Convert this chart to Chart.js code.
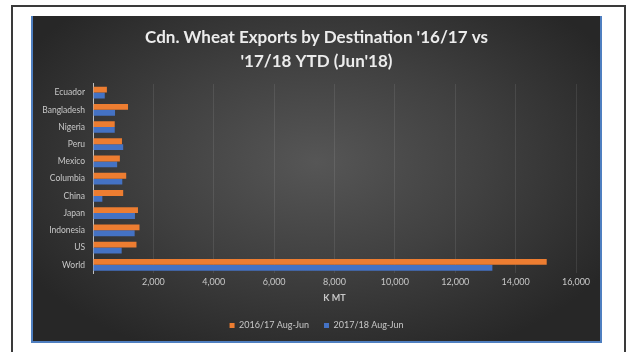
<!DOCTYPE html>
<html>
<head>
<meta charset="utf-8">
<script src="https://cdn.jsdelivr.net/npm/chart.js@4"></script>
<style>
  html, body { margin: 0; padding: 0; background: #fff; width: 628px; height: 352px; overflow: hidden; }
  #frame {
    position: absolute; left: 11px; top: 5px; width: 615px; height: 360px;
    border: 2px solid #3a3a3a; box-sizing: border-box;
  }
  #panel {
    position: absolute; left: 31px; top: 16px; width: 571px; height: 327px;
    box-sizing: border-box;
    border-left: 2px solid #4f7fc0; border-right: 2px solid #4f7fc0; border-bottom: 2px solid #4f7fc0;
    background: radial-gradient(ellipse 60% 65% at 50% 45%, #565656 0%, #404040 50%, #272727 100%);
  }
  #wrap { position: absolute; left: 33px; top: 16px; width: 567px; height: 325px; }
</style>
</head>
<body>
<div id="frame"></div>
<div id="panel"></div>
<div id="wrap"><canvas id="chart"></canvas></div>
<script>
const categories = ['Ecuador', 'Bangladesh', 'Nigeria', 'Peru', 'Mexico', 'Columbia', 'China', 'Japan', 'Indonesia', 'US', 'World'];
const exports1617 = [460, 1160, 720, 960, 890, 1100, 1000, 1490, 1540, 1440, 15030];
const exports1718 = [390, 730, 720, 1000, 800, 970, 310, 1390, 1380, 950, 13230];
const xTicks = [0, 2000, 4000, 6000, 8000, 10000, 12000, 14000, 16000];

const tickColor = '#c8c8c8';
const font = 'Lato, "Open Sans", sans-serif';

new Chart(document.getElementById('chart'), {
    type: 'bar',
    data: {
        labels: categories,
        datasets: [
            {
                label: '2016/17 Aug-Jun',
                data: exports1617,
                backgroundColor: '#ed7d31',
                yAxisID: 'y',
                barPercentage: 1.0,
                categoryPercentage: 0.68
            },
            {
                label: '2017/18 Aug-Jun',
                data: exports1718,
                backgroundColor: '#4472c4',
                yAxisID: 'y',
                barPercentage: 1.0,
                categoryPercentage: 0.68
            }
        ]
    },
    options: {
        indexAxis: 'y',
        responsive: true,
        maintainAspectRatio: false,
        animation: false,
        layout: { padding: { left: 0, right: 0, top: 8, bottom: 1 } },
        plugins: {
            title: {
                display: true,
                text: ["Cdn. Wheat Exports by Destination '16/17 vs", "'17/18 YTD (Jun'18)"],
                color: '#ececec',
                font: { family: font, size: 17, weight: 'bold', lineHeight: 1.41 },
                padding: { top: 1.5, bottom: 10.5 }
            },
            legend: {
                position: 'bottom',
                labels: {
                    color: tickColor,
                    font: { family: font, size: 9 },
                    boxWidth: 5,
                    boxHeight: 5,
                    padding: 15
                }
            },
            tooltip: { enabled: false }
        },
        scales: {
            y: {
                afterFit: axis => { axis.width = 60; },
                ticks: {
                    color: tickColor,
                    font: { family: font, size: 8.5 },
                    padding: 8
                },
                grid: { display: false, drawTicks: false },
                border: { display: true, color: '#bfbfbf', width: 1 }
            },
            // empty right-hand spacer so the title and legend stay centred on the panel
            y2: {
                type: 'category',
                position: 'right',
                afterFit: axis => { axis.width = 24; },
                ticks: { display: false },
                grid: { display: false, drawTicks: false },
                border: { display: false }
            },
            x: {
                min: 0,
                max: 16000,
                afterBuildTicks: axis => { axis.ticks = xTicks.map(v => ({ value: v })); },
                ticks: {
                    color: tickColor,
                    font: { family: font, size: 9 },
                    callback: v => v === 0 ? '' : v.toLocaleString('en-US')
                },
                grid: { color: 'rgba(255,255,255,0.09)', drawTicks: false },
                border: { display: false },
                title: {
                    display: true,
                    text: 'K MT',
                    color: tickColor,
                    font: { family: font, size: 9, weight: 'bold' },
                    padding: { top: 2, bottom: 3 }
                }
            }
        }
    }
});
</script>
</body>
</html>
